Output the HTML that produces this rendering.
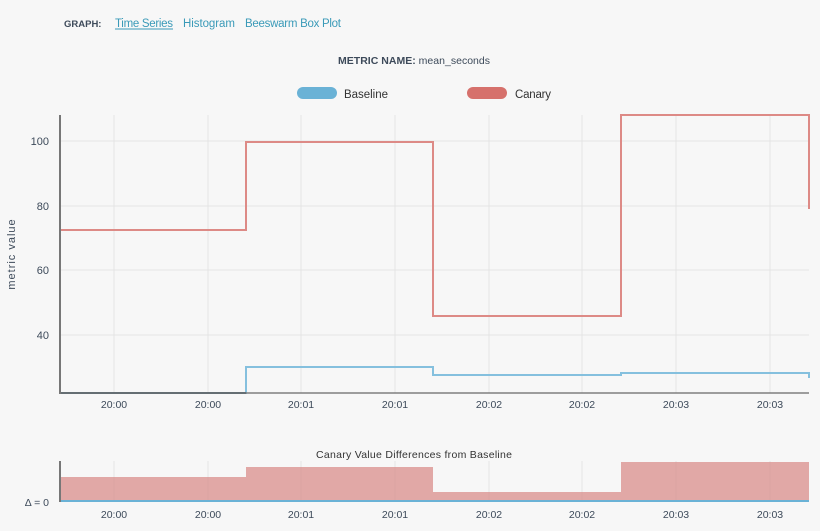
<!DOCTYPE html>
<html><head><style>
body{margin:0;width:820px;height:531px;background:#f7f7f7;font-family:"Liberation Sans",sans-serif;overflow:hidden}
svg{position:absolute;left:0;top:0}
</style></head><body>
<svg width="820" height="531" xmlns="http://www.w3.org/2000/svg" font-family="Liberation Sans, sans-serif">
<text x="64" y="27" font-size="9.5" font-weight="bold" fill="#3d4a5a">GRAPH:</text>
<text x="115" y="27" font-size="11.5" fill="#3a9ab8" textLength="58">Time Series</text>
<line x1="115" y1="29" x2="173" y2="29" stroke="#3a9ab8"/>
<text x="183" y="27" font-size="11.5" fill="#3a9ab8" textLength="52">Histogram</text>
<text x="245" y="27" font-size="11.5" fill="#3a9ab8" textLength="96">Beeswarm Box Plot</text>
<text x="338" y="64" font-size="10.5" fill="#3d4a5a" textLength="152"><tspan font-weight="bold">METRIC NAME:</tspan> mean_seconds</text>
<rect x="297" y="87" width="40" height="12" rx="6" fill="#6ab2d6"/>
<text x="344" y="98" font-size="11.5" fill="#333" textLength="44">Baseline</text>
<rect x="467" y="87" width="40" height="12" rx="6" fill="#d6716c"/>
<text x="515" y="98" font-size="11.5" fill="#333" textLength="36">Canary</text>
<g stroke="#e4e4e4" stroke-width="1">
<line x1="60" y1="141" x2="809" y2="141"/><line x1="60" y1="206" x2="809" y2="206"/><line x1="60" y1="270" x2="809" y2="270"/><line x1="60" y1="335" x2="809" y2="335"/>
<line x1="114" y1="115" x2="114" y2="393"/><line x1="208" y1="115" x2="208" y2="393"/><line x1="301" y1="115" x2="301" y2="393"/><line x1="395" y1="115" x2="395" y2="393"/><line x1="489" y1="115" x2="489" y2="393"/><line x1="582" y1="115" x2="582" y2="393"/><line x1="676" y1="115" x2="676" y2="393"/><line x1="770" y1="115" x2="770" y2="393"/>
<line x1="114" y1="461" x2="114" y2="501"/><line x1="208" y1="461" x2="208" y2="501"/><line x1="301" y1="461" x2="301" y2="501"/><line x1="395" y1="461" x2="395" y2="501"/><line x1="489" y1="461" x2="489" y2="501"/><line x1="582" y1="461" x2="582" y2="501"/><line x1="676" y1="461" x2="676" y2="501"/><line x1="770" y1="461" x2="770" y2="501"/>
</g>
<g font-size="11" fill="#3d4a5a" text-anchor="end">
<text x="49" y="145">100</text><text x="49" y="210">80</text><text x="49" y="274">60</text><text x="49" y="339">40</text>
</g>
<text transform="translate(15,254) rotate(-90)" font-size="11" fill="#3d4a5a" text-anchor="middle" letter-spacing="1">metric value</text>
<path d="M60 230H246V142H433V316H621V115H809V209" fill="none" stroke="#dd8a86" stroke-width="2"/>
<path d="M60 393H246V367H433V375H621V373H809V378" fill="none" stroke="#85c0de" stroke-width="2"/>
<line x1="60" y1="393" x2="246" y2="393" stroke="#3d5a6a" stroke-width="2"/>
<line x1="60" y1="115" x2="60" y2="394" stroke="#777" stroke-width="2"/>
<line x1="60" y1="393" x2="809" y2="393" stroke="#777" stroke-width="2" opacity="0.7"/>
<g font-size="10.5" fill="#3d4a5a" text-anchor="middle">
<text x="114" y="408">20:00</text><text x="208" y="408">20:00</text><text x="301" y="408">20:01</text><text x="395" y="408">20:01</text><text x="489" y="408">20:02</text><text x="582" y="408">20:02</text><text x="676" y="408">20:03</text><text x="770" y="408">20:03</text>
<text x="114" y="518">20:00</text><text x="208" y="518">20:00</text><text x="301" y="518">20:01</text><text x="395" y="518">20:01</text><text x="489" y="518">20:02</text><text x="582" y="518">20:02</text><text x="676" y="518">20:03</text><text x="770" y="518">20:03</text>
</g>
<text x="414" y="458" font-size="10.5" fill="#333" text-anchor="middle" textLength="196">Canary Value Differences from Baseline</text>
<path d="M60 501V477H246V467H433V492H621V462H809V501Z" fill="#d98e8b" opacity="0.75"/>
<line x1="60" y1="501" x2="809" y2="501" stroke="#6ab2d6" stroke-width="2"/>
<line x1="60" y1="461" x2="60" y2="502" stroke="#777" stroke-width="2"/>
<text x="49" y="506" font-size="10.5" fill="#3d4a5a" text-anchor="end">Δ = 0</text>
</svg>
</body></html>
